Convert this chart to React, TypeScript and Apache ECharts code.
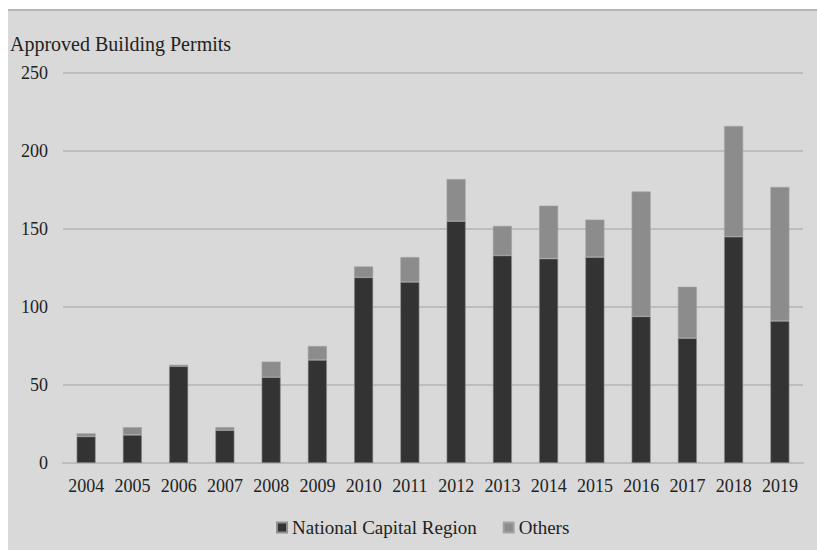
import React, { useEffect, useRef } from "react";
import * as echarts from "echarts";

const years = ["2004", "2005", "2006", "2007", "2008", "2009", "2010", "2011", "2012", "2013", "2014", "2015", "2016", "2017", "2018", "2019"];
const nationalCapitalRegion = [17, 18, 62, 21, 55, 66, 119, 116, 155, 133, 131, 132, 94, 80, 145, 91];
const others = [2, 5, 1, 2, 10, 9, 7, 16, 27, 19, 34, 24, 80, 33, 71, 86];
const yTicks = { min: 0, max: 250, interval: 50 };

const FONT = "'Liberation Serif', 'Times New Roman', serif";
const TEXT = "#222222";

export default function App() {
  const ref = useRef<HTMLDivElement>(null);

  useEffect(() => {
    if (!ref.current) return;
    const chart = echarts.init(ref.current, null, { renderer: "svg" });
    chart.setOption({
      animation: false,
      textStyle: { fontFamily: FONT, color: TEXT },
      graphic: [
        {
          type: "rect",
          silent: true,
          z: -10,
          shape: { x: 8, y: 9, width: 809, height: 541 },
          style: { fill: "#d9d9d9" },
        },
        {
          type: "line",
          silent: true,
          z: -9,
          shape: { x1: 8, y1: 10, x2: 817, y2: 10 },
          style: { stroke: "#b5b5b5", lineWidth: 2 },
        },
      ],
      title: {
        text: "Approved Building Permits",
        left: 10,
        top: 34,
        padding: 0,
        textStyle: { fontFamily: FONT, fontSize: 20, fontWeight: "normal", color: TEXT },
      },
      legend: {
        left: 271,
        top: 513,
        itemWidth: 10,
        itemHeight: 10,
        itemGap: 26,
        icon: "rect",
        textStyle: { fontFamily: FONT, fontSize: 19, color: TEXT },
        data: ["National Capital Region", "Others"],
      },
      grid: { left: 63, right: 14, top: 73, bottom: 87, containLabel: false },
      xAxis: {
        type: "category",
        data: years,
        axisLine: { lineStyle: { color: "#bdbdbd", width: 2 } },
        axisTick: { show: false },
        axisLabel: { fontFamily: FONT, fontSize: 18, color: TEXT, margin: 14, interval: 0 },
      },
      yAxis: {
        type: "value",
        min: yTicks.min,
        max: yTicks.max,
        interval: yTicks.interval,
        axisLine: { show: false },
        axisTick: { show: false },
        splitLine: { lineStyle: { color: "#bdbdbd", width: 2 } },
        axisLabel: { fontFamily: FONT, fontSize: 18, color: TEXT, margin: 15 },
      },
      series: [
        {
          name: "National Capital Region",
          type: "bar",
          stack: "permits",
          data: nationalCapitalRegion,
          barWidth: 19,
          itemStyle: { color: "#333333", borderColor: "#8f8f8f", borderWidth: 0.6 },
        },
        {
          name: "Others",
          type: "bar",
          stack: "permits",
          data: others,
          barWidth: 19,
          itemStyle: { color: "#8c8c8c", borderColor: "#a3a3a3", borderWidth: 0.6 },
        },
      ],
    });
    return () => chart.dispose();
  }, []);

  return (
    <div
      ref={ref}
      style={{ position: "absolute", left: 0, top: 0, width: 817, height: 550 }}
    />
  );
}
